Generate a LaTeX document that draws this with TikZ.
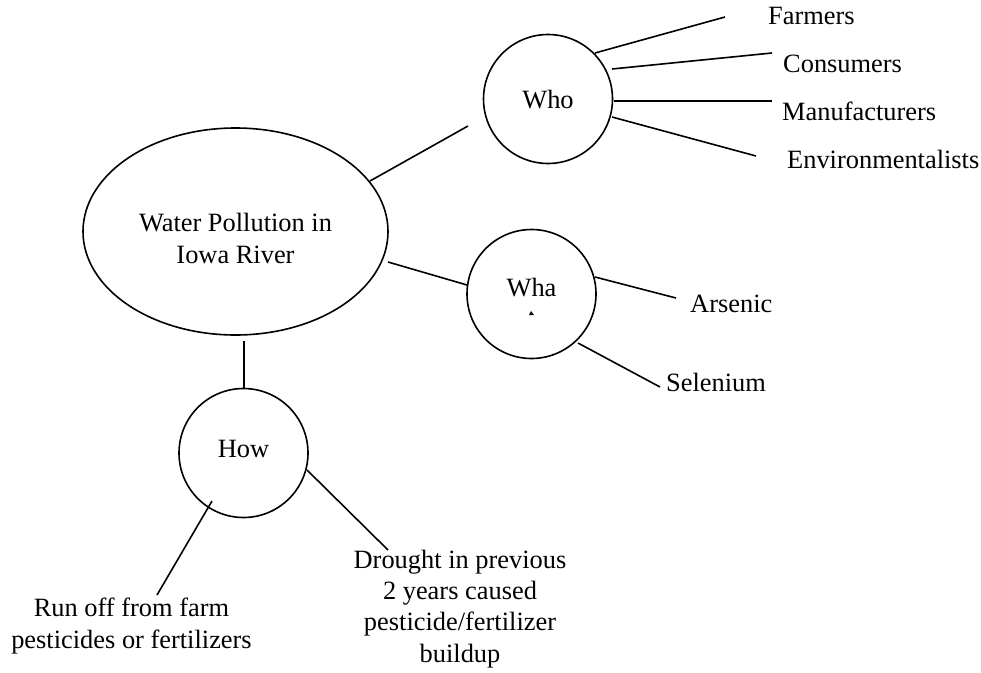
\documentclass[tikz,border=0pt]{standalone}
\usepackage{fontspec}
\setmainfont{Liberation Serif}
\usetikzlibrary{shapes.geometric}
\begin{document}
\begin{tikzpicture}[x=1pt,y=-1pt,
  conn/.style={line width=1.6pt},
  bubble/.style={draw,line width=1.6pt,circle,minimum size=129pt,inner sep=0pt},
  txt/.style={font=\fontsize{26.4}{31.3}\selectfont,inner sep=0pt},
  lbl/.style={txt,anchor=base west}]
\useasboundingbox (0,0) rectangle (981,672);
% central topic and branch circles
\node[draw,ellipse,line width=1.6pt,minimum width=305pt,minimum height=207pt,inner sep=0pt] (main) at (235.5,231.5) {};
\node[bubble] (who) at (548,99) {};
\node[bubble] (wha) at (531.5,294) {};
\node[bubble] (how) at (243.5,453) {};
% texts
\node[txt,anchor=base,align=center] (maintext) at (235.5,263) {Water Pollution in\\Iowa River};
\node[txt,anchor=base] (whotext) at (548,108) {Who};
\node[txt,anchor=base] (whatext) at (531.5,296) {Wha};
\fill (529,315) -- (534,315) -- (531,311) -- cycle;
\node[txt,anchor=base] (howtext) at (243.5,457) {How};
\node[lbl] (farmers) at (768,24) {Farmers};
\node[lbl] (consumers) at (783,72) {Consumers};
\node[lbl] (manuf) at (782,120) {Manufacturers};
\node[lbl] (env) at (787,168) {Environmentalists};
\node[lbl] (arsenic) at (690,312) {Arsenic};
\node[lbl] (selenium) at (666,391) {Selenium};
\node[txt,anchor=base,align=center] (runoff) at (131.5,648) {Run off from farm\\pesticides or fertilizers};
\node[txt,anchor=base,align=center] (drought) at (460,662) {Drought in previous\\2 years caused\\pesticide/fertilizer\\buildup};
% connector end points
\coordinate (m1) at (370,181); \coordinate (w0) at (468,126);
\coordinate (m2) at (388,262); \coordinate (a0) at (467,285);
\coordinate (m3) at (244,341); \coordinate (h0) at (244,389);
\coordinate (w1) at (595,53);  \coordinate (f1) at (725,17);
\coordinate (w2) at (612,69);  \coordinate (c1) at (772,53);
\coordinate (w3) at (614,101); \coordinate (mf1) at (772,101);
\coordinate (w4) at (612,117); \coordinate (e1) at (756,156);
\coordinate (a1) at (595,277); \coordinate (ar1) at (676,298);
\coordinate (a2) at (578,343); \coordinate (se1) at (660,387);
\coordinate (h1) at (212,501); \coordinate (r1) at (157,595);
\coordinate (h2) at (307,470); \coordinate (d1) at (388,550);
% connectors
\draw[conn] (m1) -- (w0);
\draw[conn] (m2) -- (a0);
\draw[conn] (m3) -- (h0);
\draw[conn] (w1) -- (f1);
\draw[conn] (w2) -- (c1);
\draw[conn] (w3) -- (mf1);
\draw[conn] (w4) -- (e1);
\draw[conn] (a1) -- (ar1);
\draw[conn] (a2) -- (se1);
\draw[conn] (h1) -- (r1);
\draw[conn] (h2) -- (d1);
\end{tikzpicture}
\end{document}
